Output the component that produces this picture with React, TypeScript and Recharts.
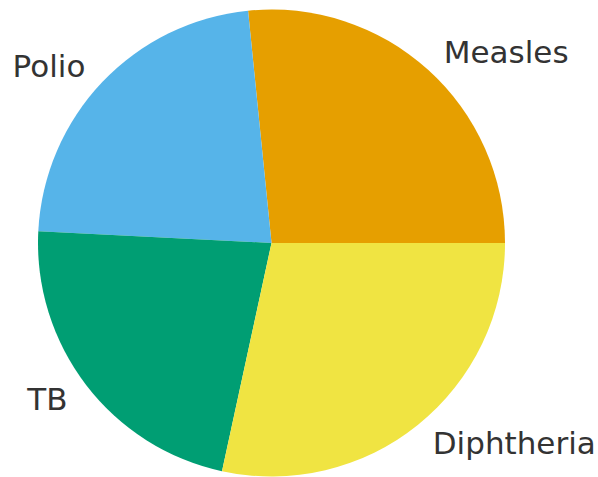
import React from "react";
import { PieChart, Pie, Cell } from "recharts";

const categories = ["Measles", "Polio", "TB", "Diphtheria"];
const values = [26.6, 22.6, 22.4, 28.4];
const colors = ["#E69F00", "#56B4E9", "#009E73", "#F0E442"];

const data = categories.map((name, i) => ({ name, value: values[i] }));
const RAD = Math.PI / 180;

const renderLabel = (props: any) => {
  const { cx, cy, midAngle, outerRadius, name } = props;
  const r = outerRadius * 1.1;
  const x = cx + r * Math.cos(-midAngle * RAD);
  const y = cy + r * Math.sin(-midAngle * RAD);
  const anchor = Math.cos(-midAngle * RAD) >= 0 ? "start" : "end";
  return (
    <text
      x={x}
      y={y}
      textAnchor={anchor}
      dominantBaseline="central"
      fill="#333333"
      fontSize={31}
      fontFamily="DejaVu Sans"
    >
      {name}
    </text>
  );
};

export default function App() {
  return (
    <div style={{ position: "absolute", left: 0, top: 0, background: "#fff" }}>
      <PieChart width={598} height={477} margin={{ top: 0, right: 0, bottom: 0, left: 0 }}>
        <Pie
          data={data}
          dataKey="value"
          nameKey="name"
          cx={271.5}
          cy={243}
          outerRadius={233.5}
          startAngle={0}
          endAngle={360}
          stroke="none"
          label={renderLabel}
          labelLine={false}
          isAnimationActive={false}
        >
          {data.map((d, i) => (
            <Cell key={d.name} fill={colors[i]} />
          ))}
        </Pie>
      </PieChart>
    </div>
  );
}
